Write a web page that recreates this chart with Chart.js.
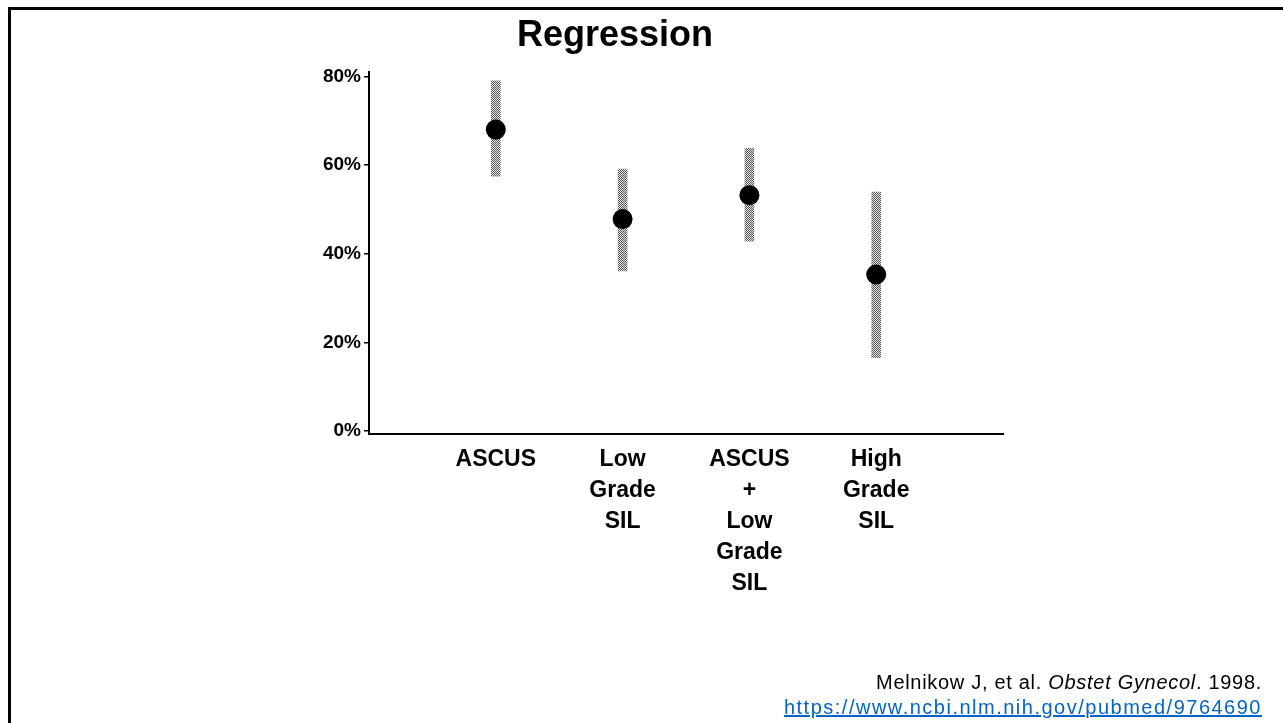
<!DOCTYPE html>
<html>
<head>
<meta charset="utf-8">
<script src="https://cdn.jsdelivr.net/npm/chart.js@4"></script>
<style>
  html, body { margin: 0; padding: 0; background: #fff; }
  body { width: 1283px; height: 723px; position: relative; overflow: hidden; }
  #frame { position: absolute; left: 8px; top: 7px; width: 1300px; height: 760px; border-top: 3px solid #000; border-left: 3px solid #000; }
  #chart { position: absolute; left: 0; top: 0; }
  #title { position: absolute; left: 415px; width: 400px; top: 12px; text-align: center; font-family: "Liberation Sans", Arial, sans-serif; font-size: 36px; font-weight: bold; color: #000; line-height: 44px; }
  #cite { position: absolute; right: 21px; top: 670px; text-align: right; font-family: "Liberation Sans", Arial, sans-serif; font-size: 20px; line-height: 25px; color: #000; }
  #cite .l1 { letter-spacing: 0.7px; }
  #cite a { color: #0563C1; text-decoration: underline; letter-spacing: 1.5px; }
</style>
</head>
<body>
<div id="frame"></div>
<canvas id="chart" width="1283" height="723"></canvas>
<div id="title">Regression</div>
<div id="cite"><span class="l1">Melnikow J, et al. <i>Obstet Gynecol</i>. 1998.</span><br><a href="https://www.ncbi.nlm.nih.gov/pubmed/9764690">https://www.ncbi.nlm.nih.gov/pubmed/9764690</a></div>
<script>
const categories = ['', 'ASCUS', ['Low', 'Grade', 'SIL'], ['ASCUS', '+', 'Low', 'Grade', 'SIL'], ['High', 'Grade', 'SIL'], ''];
const regression = [null, 68, 47.8, 53.2, 35.3, null];
const ciLow = [null, 57.5, 36.1, 42.8, 16.5, null];
const ciHigh = [null, 79, 59.1, 63.8, 53.9, null];
const yTickValues = [0, 20, 40, 60, 80];

const pc = document.createElement('canvas');
pc.width = 2; pc.height = 2;
const pg = pc.getContext('2d');
pg.fillStyle = '#e6e6e6'; pg.fillRect(0, 0, 2, 2);
pg.fillStyle = '#555555'; pg.fillRect(0, 0, 1, 1); pg.fillRect(1, 1, 1, 1);
const stipple = pg.createPattern(pc, 'repeat');

const ciRanges = ciLow.map((l, i) => (l == null ? null : [l, ciHigh[i]]));

new Chart(document.getElementById('chart'), {
  data: {
    labels: categories,
    datasets: [
      {
        type: 'line',
        data: regression,
        showLine: false,
        pointRadius: 10,
        pointHoverRadius: 10,
        pointBackgroundColor: '#000',
        pointBorderColor: '#000',
        pointBorderWidth: 0,
        order: 0
      },
      {
        type: 'bar',
        data: ciRanges,
        backgroundColor: stipple,
        borderWidth: 0,
        barThickness: 9,
        order: 1
      }
    ]
  },
  options: {
    responsive: false,
    animation: false,
    layout: { padding: { left: 0, top: 72, right: 280, bottom: 0 } },
    plugins: { legend: { display: false }, tooltip: { enabled: false }, title: { display: false } },
    scales: {
      x: {
        type: 'category',
        offset: false,
        afterFit: s => { s.height = 289; },
        grid: { display: false, drawTicks: false },
        border: { display: true, color: '#000', width: 2 },
        ticks: {
          autoSkip: false, maxRotation: 0, minRotation: 0,
          color: '#000', padding: 10,
          font: { family: '"Liberation Sans", Arial, sans-serif', size: 23, weight: 'bold', lineHeight: '31px' }
        }
      },
      y: {
        min: -0.7,
        max: 81,
        afterFit: s => { s.width = 369; },
        afterBuildTicks: s => { s.ticks = yTickValues.map(v => ({ value: v })); },
        grid: { drawOnChartArea: false, drawTicks: true, tickLength: 5, color: '#000', lineWidth: 1.5 },
        border: { display: true, color: '#000', width: 2 },
        ticks: {
          color: '#000', padding: 3,
          font: { family: '"Liberation Sans", Arial, sans-serif', size: 19, weight: 'bold' },
          callback: v => v + '%'
        }
      }
    }
  }
});
</script>
</body>
</html>
